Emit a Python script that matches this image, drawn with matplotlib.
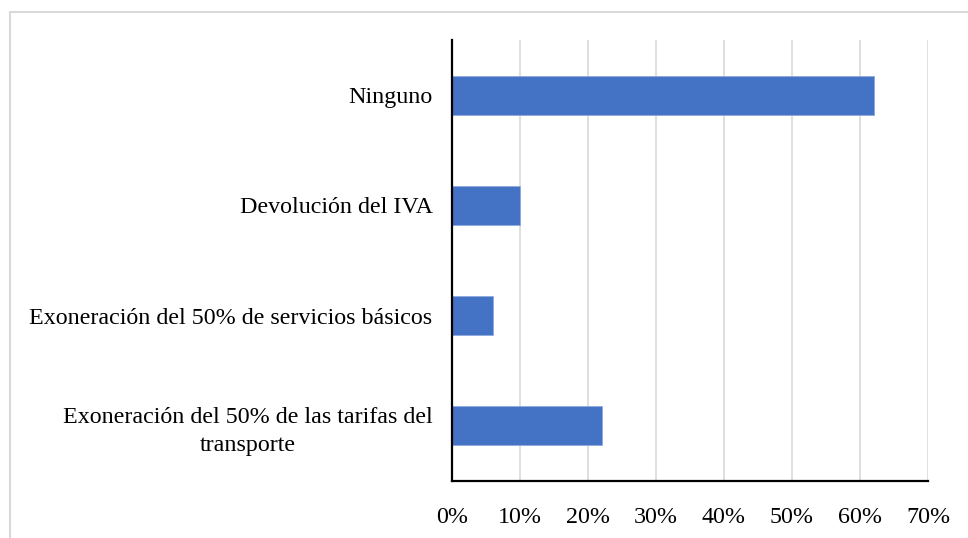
import matplotlib.pyplot as plt
from matplotlib.patches import Rectangle
from matplotlib.ticker import PercentFormatter

plt.rcParams['font.family'] = ['Liberation Serif', 'DejaVu Serif']

categorias = ['Exoneración del 50% de las tarifas del\ntransporte',
              'Exoneración del 50% de servicios básicos',
              'Devolución del IVA',
              'Ninguno']
valores = [22, 6, 10, 62]

fig = plt.figure(figsize=(9.68, 5.38), dpi=100)
ax = fig.add_axes([452 / 968, 1 - 481 / 538, 476 / 968, 441 / 538])

# marco gris del grafico
fig.patches.append(Rectangle((10 / 968, -0.1), 1.2, 1.1 - 12 / 538,
                             transform=fig.transFigure, fill=False,
                             edgecolor='#D9D9D9', linewidth=1.5))

ax.barh(range(len(valores)), valores, height=0.355, color='#4472C4',
        edgecolor='#8FAADC', linewidth=0.6, zorder=3)

ax.set_xlim(0, 70)
ax.set_ylim(-0.5, len(valores) - 0.5)
ax.set_xticks(range(0, 71, 10))
ax.xaxis.set_major_formatter(PercentFormatter(decimals=0))
ax.set_yticks(range(len(valores)))
ax.set_yticklabels(categorias, multialignment='center', linespacing=1.4)
ax.tick_params(axis='both', length=0, labelsize=17.3)
ax.tick_params(axis='y', pad=14)
ax.tick_params(axis='x', pad=19)

ax.grid(axis='x', color='#D9D9D9', linewidth=1.2, zorder=0)
for s in ['top', 'right']:
    ax.spines[s].set_visible(False)
ax.spines['left'].set_linewidth(1.6)
ax.spines['bottom'].set_linewidth(1.6)
ax.spines['left'].set_zorder(4)

fig.savefig('out.png', dpi=100)
